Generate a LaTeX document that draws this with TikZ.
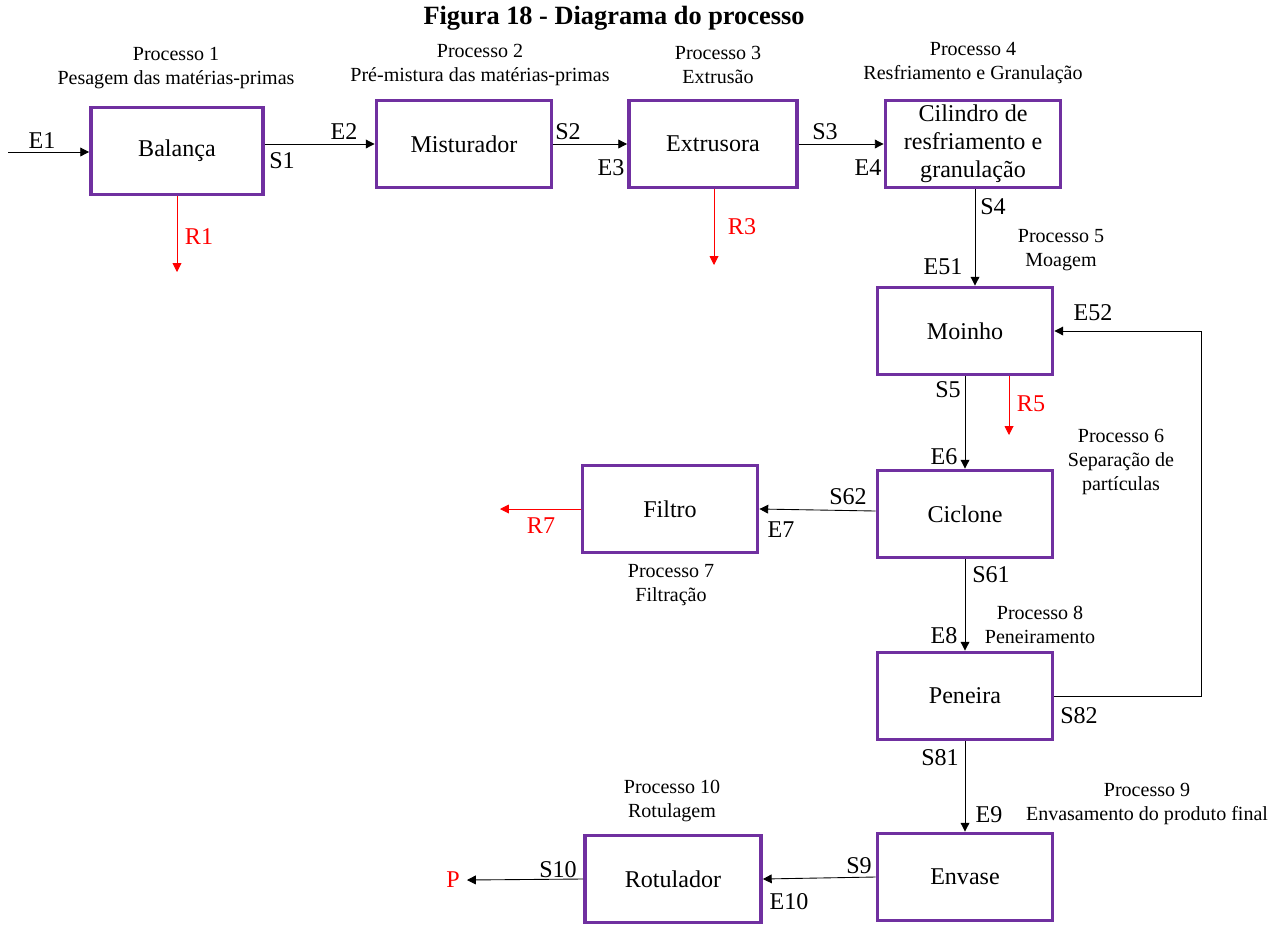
\documentclass[tikz,border=0pt]{standalone}
\usepackage{fontspec}
\setmainfont{Liberation Serif}
\usetikzlibrary{arrows.meta}
\definecolor{boxpurple}{HTML}{7030A0}
\definecolor{rred}{HTML}{FF0000}
\tikzset{
  box/.style={draw=boxpurple, line width=2.2pt, minimum width=3.5cm, minimum height=1.74cm, inner sep=0pt, align=center, font=\fontsize{13.7}{15.9}\selectfont},
  flow/.style={line width=0.5pt, -{Triangle[length=5pt,width=5pt]}},
  rflow/.style={flow, draw=rred, color=rred},
  lab/.style={font=\fontsize{13.7}{15.9}\selectfont, inner sep=0pt},
  rlab/.style={lab, text=rred},
  proc/.style={font=\fontsize{11.4}{13.6}\selectfont, align=center, inner sep=0pt},
}
\begin{document}
\begin{tikzpicture}[x=0.02cm, y=-0.02cm]
\useasboundingbox (0,0) rectangle (1288,924);
\node[font=\fontsize{15}{18}\selectfont\bfseries, inner sep=0pt] (title) at (614,18) {Figura 18 - Diagrama do processo};

% boxes
\node[box, minimum width=3.44cm] (bal) at (177,151) {Balança};
\node[box] (mis) at (464,144) {Misturador};
\node[box, minimum width=3.36cm] (ext) at (713,144) {Extrusora};
\node[box] (cil) at (973,144) {Cilindro de\\resfriamento e\\granulação};
\node[box] (moi) at (965,331) {Moinho};
\node[box] (cic) at (965,514) {Ciclone};
\node[box] (fil) at (670,509) {Filtro};
\node[box] (pen) at (965,696) {Peneira};
\node[box] (env) at (965,877) {Envase};
\node[box, minimum width=3.52cm] (rot) at (673,879) {Rotulador};

% process labels
\node[proc] (p1) at (176,68) {Processo 1\\Pesagem das matérias-primas};
\node[proc] (p2) at (480,65) {Processo 2\\Pré-mistura das matérias-primas};
\node[proc] (p3) at (718,65) {Processo 3\\Extrusão};
\node[proc] (p4) at (973,63) {Processo 4\\Resfriamento e Granulação};
\node[proc] (p5) at (1061,250) {Processo 5\\Moagem};
\node[proc] (p6) at (1121,462) {Processo 6\\Separação de\\partículas};
\node[proc] (p7) at (671,585) {Processo 7\\Filtração};
\node[proc] (p8) at (1040,625) {Processo 8\\Peneiramento};
\node[proc] (p9) at (1147,804) {Processo 9\\Envasamento do produto final};
\node[proc] (p10) at (672,801) {Processo 10\\Rotulagem};

% free ends
\coordinate (e1start) at (8,152);
\coordinate (r1end) at (177,272);
\coordinate (r3end) at (714,265);
\coordinate (r5end) at (1009,435);
\coordinate (r7end) at (500,509);
\coordinate (pend) at (467,880);
\coordinate (loopx) at (1201,0);

% connectors
\draw[flow] (e1start) -- (e1start -| bal.west);
\draw[flow] (bal.east |- mis) -- (mis.west);
\draw[flow] (mis.east) -- (ext.west);
\draw[flow] (ext.east) -- (cil.west);
\draw[flow] (cil.south -| 975,0) -- (975,0 |- moi.north);
\draw[flow] (moi.south) -- (cic.north);
\draw[flow] ([yshift=0.06cm]cic.west) -- (fil.east);
\draw[flow] (cic.south) -- (pen.north);
\draw[flow] (pen.east) -- (pen.east -| loopx) |- (moi.east);
\draw[flow] (pen.south) -- (env.north);
\draw[flow] (env.west) -- (rot.east);
\draw[flow] (rot.west) -- (pend);

\draw[rflow] (bal.south) -- (r1end);
\draw[rflow] (ext.south -| r3end) -- (r3end);
\draw[rflow] (moi.south -| r5end) -- (r5end);
\draw[rflow] (fil.west) -- (r7end);

% stream labels
\node[lab] (lE1) at (42,141) {E1};
\node[lab] (lS1) at (282,161) {S1};
\node[lab] (lE2) at (344,132) {E2};
\node[lab] (lS2) at (568,132) {S2};
\node[lab] (lE3) at (611,168) {E3};
\node[lab] (lS3) at (825,132) {S3};
\node[lab] (lE4) at (868,168) {E4};
\node[lab] (lS4) at (993,207) {S4};
\node[lab] (lE51) at (943,267) {E51};
\node[lab] (lE52) at (1093,313) {E52};
\node[lab] (lS5) at (948,390) {S5};
\node[lab] (lE6) at (944,457) {E6};
\node[lab] (lS62) at (848,497) {S62};
\node[lab] (lE7) at (781,530) {E7};
\node[lab] (lS61) at (991,575) {S61};
\node[lab] (lE8) at (944,636) {E8};
\node[lab] (lS82) at (1079,716) {S82};
\node[lab] (lS81) at (940,758) {S81};
\node[lab] (lE9) at (989,815) {E9};
\node[lab] (lS9) at (859,866) {S9};
\node[lab] (lE10) at (789,902) {E10};
\node[lab] (lS10) at (558,870) {S10};
\node[rlab] (lR1) at (199,237) {R1};
\node[rlab] (lR3) at (742,227) {R3};
\node[rlab] (lR5) at (1031,404) {R5};
\node[rlab] (lR7) at (541,526) {R7};
\node[rlab] (lP) at (453,880) {P};
\end{tikzpicture}
\end{document}
